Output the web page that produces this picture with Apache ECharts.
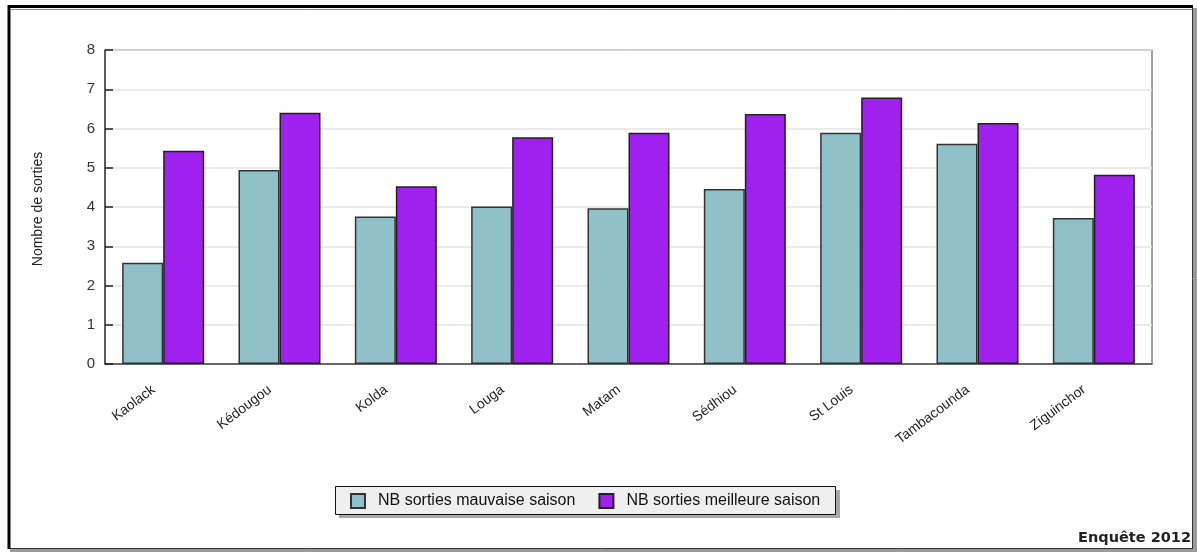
<!DOCTYPE html>
<html>
<head>
<meta charset="utf-8">
<script src="https://cdn.jsdelivr.net/npm/echarts@6/dist/echarts.min.js"></script>
<style>
html,body{margin:0;padding:0;background:#fff;}
#c{width:1197px;height:552px;}
</style>
</head>
<body>
<div id="c"></div>
<script>
const categories = ['Kaolack','Kédougou','Kolda','Louga','Matam','Sédhiou','St Louis','Tambacounda','Ziguinchor'];
const seriesNames = ['NB sorties mauvaise saison','NB sorties meilleure saison'];
const mauvaise = [2.58, 4.94, 3.76, 4.01, 3.97, 4.46, 5.89, 5.61, 3.72];
const meilleure = [5.43, 6.40, 4.53, 5.78, 5.89, 6.37, 6.79, 6.14, 4.82];
const yTicks = [0,1,2,3,4,5,6,7,8];
const yAxisTitle = 'Nombre de sorties';
const footnote = 'Enquête 2012';

const chart = echarts.init(document.getElementById('c'), null, {renderer:'canvas'});
const FONT = '"Liberation Sans", Arial, sans-serif';
chart.setOption({
  animation:false,
  backgroundColor:'#ffffff',
  grid:{left:105,right:45,top:50,bottom:188,show:true,borderColor:'#444',borderWidth:1,backgroundColor:'transparent'},
  legend:{
    left:345, top:488,
    itemWidth:14, itemHeight:14, itemGap:23,
    icon:'rect',
    textStyle:{fontFamily:FONT,fontSize:16,color:'#111',padding:[0,0,0,8]},
    data:seriesNames
  },
  xAxis:{
    type:'category',
    data:categories,
    axisLine:{lineStyle:{color:'#444',width:1.5}},
    axisTick:{inside:true,length:6,lineStyle:{color:'#333',width:1.5}},
    axisLabel:{rotate:37,margin:17,padding:[0,12,0,0],fontFamily:FONT,fontSize:14,color:'#222',interval:0}
  },
  yAxis:{
    type:'value',
    min:yTicks[0], max:yTicks[yTicks.length-1], interval:1,
    axisLine:{show:true,lineStyle:{color:'#444',width:1.5}},
    axisTick:{show:true,inside:true,length:8,lineStyle:{color:'#222',width:1.5}},
    axisLabel:{margin:10,fontFamily:FONT,fontSize:15,color:'#333'},
    splitLine:{show:true,lineStyle:{color:'#e3e3e3',width:1.5}}
  },
  series:[
    {name:seriesNames[0],type:'bar',data:mauvaise,barGap:'0%',barCategoryGap:'29.5%',
     itemStyle:{color:'#90c1c8',borderColor:'#333',borderWidth:1.5}},
    {name:seriesNames[1],type:'bar',data:meilleure,
     itemStyle:{color:'#a020f0',borderColor:'#222',borderWidth:1.5}}
  ],
  graphic:[
    {type:'rect',z:-1,shape:{x:1193,y:8,width:4,height:544},style:{fill:'#9a9a9a'},silent:true},
    {type:'rect',z:-1,shape:{x:10,y:549,width:1187,height:3},style:{fill:'#9a9a9a'},silent:true},
    {type:'line',shape:{x1:8,y1:6.5,x2:1193,y2:6.5},style:{stroke:'#000',lineWidth:3},silent:true},
    {type:'line',shape:{x1:9,y1:5,x2:9,y2:549},style:{stroke:'#000',lineWidth:3},silent:true},
    {type:'line',shape:{x1:11,y1:9.5,x2:1192,y2:9.5},style:{stroke:'#888',lineWidth:1},silent:true},
    {type:'line',shape:{x1:1192.5,y1:8,x2:1192.5,y2:549},style:{stroke:'#333',lineWidth:1},silent:true},
    {type:'line',shape:{x1:10,y1:548.5,x2:1193,y2:548.5},style:{stroke:'#333',lineWidth:1},silent:true},
    {type:'rect',z:0,shape:{x:339,y:490,width:501,height:28},style:{fill:'#a8a8a8'},silent:true},
    {type:'rect',z:1,shape:{x:335.5,y:486.5,width:500,height:28},style:{fill:'#efefef',stroke:'#111',lineWidth:1},silent:true},
    {type:'text',x:38,y:209,rotation:Math.PI/2,style:{text:yAxisTitle,fontFamily:FONT,fontSize:14,fill:'#222',align:'center',verticalAlign:'middle'},silent:true},
    {type:'text',x:1191,y:538,style:{text:footnote,fontFamily:'"DejaVu Sans", sans-serif',fontWeight:'bold',fontSize:14.5,fill:'#222',align:'right',verticalAlign:'middle'},silent:true}
  ]
});
</script>
</body>
</html>
